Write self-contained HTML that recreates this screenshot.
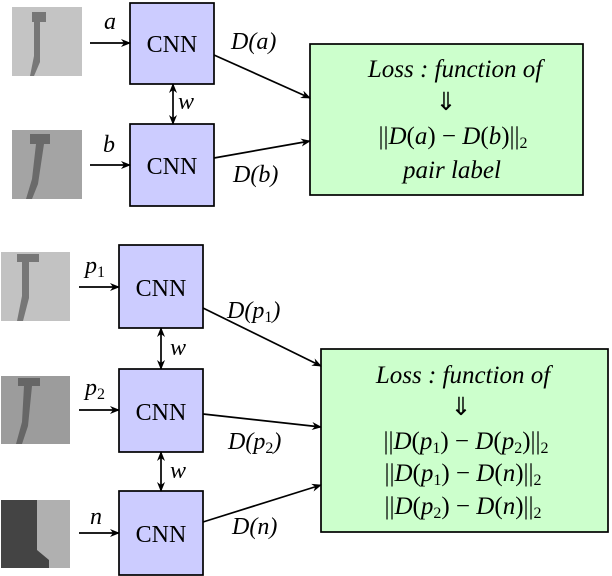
<!DOCTYPE html>
<html><head><style>body{margin:0;background:#fff}svg{display:block}</style></head><body>
<svg width="612" height="576" viewBox="0 0 612 576" xmlns="http://www.w3.org/2000/svg" font-family="Liberation Serif, serif">
<defs><marker id="ah" markerWidth="10" markerHeight="8" refX="9" refY="4" orient="auto" markerUnits="userSpaceOnUse"><path d="M0,0 L10,4 L0,8 L3,4Z" fill="#000"/></marker>
<marker id="as" markerWidth="10" markerHeight="8" refX="1" refY="4" orient="auto" markerUnits="userSpaceOnUse"><path d="M10,0 L0,4 L10,8 L7,4Z" fill="#000"/></marker></defs>
<rect x="12" y="7" width="70" height="69" fill="#c4c4c4"/><path d="M32,12 h14 v10 h-6 v40 l-6,14 h-4 l4,-20 v-34 h-2z" fill="#777"/>
<rect x="12" y="130" width="70" height="69" fill="#a4a4a4"/><path d="M30,134 h20 v10 h-6 l-6,40 l-6,15 h-6 l6,-20 l4,-35 h-6z" fill="#6a6a6a"/>
<rect x="1" y="252" width="69" height="69" fill="#c2c2c2"/><path d="M17,254 h22 v8 h-10 v36 l-6,23 h-6 l5,-25 v-34 h-5z" fill="#777"/>
<rect x="1" y="376" width="69" height="68" fill="#9c9c9c"/><path d="M18,378 h22 v8 h-8 l-4,40 l-6,18 h-6 l6,-22 l2,-36 h-6z" fill="#666"/>
<rect x="1" y="500" width="69" height="68" fill="#b0b0b0"/><path d="M1,500 h36 v50 l12,10 v8 h-48z" fill="#444"/>
<g stroke="#000" stroke-width="1.7" fill="none">
<rect x="130" y="3" width="84" height="81" fill="#ccccff"/>
<rect x="130" y="124" width="84" height="82" fill="#ccccff"/>
<rect x="310" y="44" width="273" height="151" fill="#ccffcc"/>
<rect x="119" y="245" width="84" height="83" fill="#ccccff"/>
<rect x="119" y="369" width="84" height="83" fill="#ccccff"/>
<rect x="119" y="491" width="84" height="84" fill="#ccccff"/>
<rect x="321" y="349" width="287" height="183" fill="#ccffcc"/>
<line x1="90" y1="43" x2="130" y2="43" marker-end="url(#ah)"/>
<line x1="90" y1="165" x2="130" y2="165" marker-end="url(#ah)"/>
<line x1="79" y1="287" x2="119" y2="287" marker-end="url(#ah)"/>
<line x1="79" y1="410" x2="119" y2="410" marker-end="url(#ah)"/>
<line x1="79" y1="533" x2="119" y2="533" marker-end="url(#ah)"/>
<line x1="173" y1="84" x2="173" y2="124" marker-start="url(#as)" marker-end="url(#ah)"/>
<line x1="161" y1="328" x2="161" y2="369" marker-start="url(#as)" marker-end="url(#ah)"/>
<line x1="161" y1="452" x2="161" y2="491" marker-start="url(#as)" marker-end="url(#ah)"/>
<line x1="214" y1="55" x2="310" y2="98" marker-end="url(#ah)"/>
<line x1="214" y1="158" x2="310" y2="141" marker-end="url(#ah)"/>
<line x1="203" y1="308" x2="321" y2="366" marker-end="url(#ah)"/>
<line x1="203" y1="414" x2="321" y2="427" marker-end="url(#ah)"/>
<line x1="203" y1="522" x2="321" y2="485" marker-end="url(#ah)"/>
</g>
<g font-size="24" text-anchor="middle">
<text x="172" y="52">CNN</text><text x="172" y="174">CNN</text>
<text x="161" y="296">CNN</text><text x="161" y="420">CNN</text><text x="161" y="542">CNN</text>
</g>
<g font-size="24" font-style="italic">
<text x="104" y="29">a</text><text x="103" y="152">b</text>
<text x="85" y="273">p<tspan font-size="16" font-style="normal" dy="4">1</tspan></text>
<text x="85" y="395">p<tspan font-size="16" font-style="normal" dy="4">2</tspan></text>
<text x="90" y="524">n</text>
<text x="178" y="109">w</text><text x="170" y="355">w</text><text x="170" y="478">w</text>
<text x="231" y="49">D(a)</text><text x="233" y="182">D(b)</text>
<text x="227" y="318">D(p<tspan font-size="16" font-style="normal" dy="4">1</tspan><tspan dy="-4">)</tspan></text>
<text x="228" y="449">D(p<tspan font-size="16" font-style="normal" dy="4">2</tspan><tspan dy="-4">)</tspan></text>
<text x="232" y="534">D(n)</text>
</g>
<g font-size="25" text-anchor="middle">
<text x="455" y="77" font-style="italic">Loss :  function of</text>
<text x="446" y="110">⇓</text>
<text x="453" y="144">||<tspan font-style="italic">D</tspan>(<tspan font-style="italic">a</tspan>) − <tspan font-style="italic">D</tspan>(<tspan font-style="italic">b</tspan>)||<tspan font-size="16" dy="4">2</tspan></text>
<text x="452" y="178" font-style="italic">pair label</text>
<text x="463" y="383" font-style="italic">Loss :  function of</text>
<text x="461" y="415">⇓</text>
<text x="466" y="449">||<tspan font-style="italic">D</tspan>(<tspan font-style="italic">p</tspan><tspan font-size="16" dy="4">1</tspan><tspan dy="-4">) − </tspan><tspan font-style="italic">D</tspan>(<tspan font-style="italic">p</tspan><tspan font-size="16" dy="4">2</tspan><tspan dy="-4">)||</tspan><tspan font-size="16" dy="4">2</tspan></text>
<text x="463" y="481">||<tspan font-style="italic">D</tspan>(<tspan font-style="italic">p</tspan><tspan font-size="16" dy="4">1</tspan><tspan dy="-4">) − </tspan><tspan font-style="italic">D</tspan>(<tspan font-style="italic">n</tspan>)||<tspan font-size="16" dy="4">2</tspan></text>
<text x="463" y="514">||<tspan font-style="italic">D</tspan>(<tspan font-style="italic">p</tspan><tspan font-size="16" dy="4">2</tspan><tspan dy="-4">) − </tspan><tspan font-style="italic">D</tspan>(<tspan font-style="italic">n</tspan>)||<tspan font-size="16" dy="4">2</tspan></text>
</g>
</svg>
</body></html>
